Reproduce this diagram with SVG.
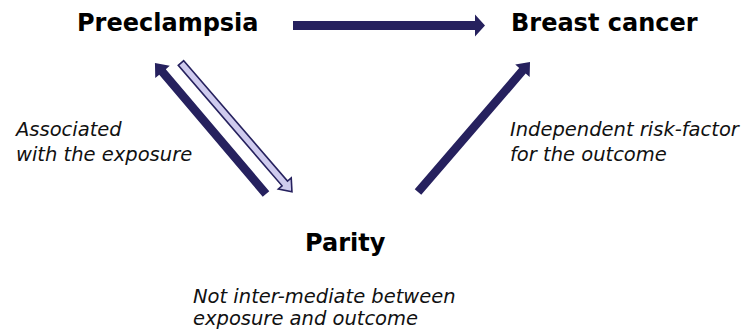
<svg xmlns="http://www.w3.org/2000/svg" width="748" height="331" viewBox="0 0 748 331">
<style>
.lbl{font-family:"DejaVu Sans",Verdana,sans-serif;font-weight:bold;font-size:24px;fill:#000}
.note{font-family:"DejaVu Sans",Verdana,sans-serif;font-style:italic;font-size:19.5px;fill:#111}
.dark{fill:#26215e}
.light{fill:#cfcbee;stroke:#26215e;stroke-width:1.6;stroke-linejoin:miter}
</style>
<rect width="748" height="331" fill="#fff"/>
<g id="connectors">
<polygon class="dark" transform="translate(293,25.5)" points="0,-4.5 182,-4.5 182,-11 192,0 182,11 182,4.5 0,4.5"/>
<polygon class="dark" transform="translate(266,194) rotate(229.7)" points="0,-4.3 160,-4.3 160,-9.5 171.7,0 160,9.5 160,4.3 0,4.3"/>
<polygon class="light" transform="translate(181,63) rotate(49.25)" points="0,-3.6 159,-3.6 159,-8.5 170,0 159,8.5 159,3.6 0,3.6"/>
<polygon class="dark" transform="translate(418,192) rotate(-49.25)" points="0,-4.3 160,-4.3 160,-9.5 171.6,0 160,9.5 160,4.3 0,4.3"/>
</g>
<g id="preeclampsia"><text class="lbl" x="77" y="31">Preeclampsia</text></g>
<g id="breast-cancer"><text class="lbl" x="511" y="31">Breast cancer</text></g>
<g id="parity"><text class="lbl" x="305" y="251">Parity</text></g>
<g id="note-exposure"><text class="note" x="16" y="136">Associated</text><text class="note" x="16" y="161">with the exposure</text></g>
<g id="note-outcome"><text class="note" x="510" y="136">Independent risk-factor</text><text class="note" x="510" y="161">for the outcome</text></g>
<g id="note-parity"><text class="note" x="193" y="303">Not inter-mediate between</text><text class="note" x="193" y="325">exposure and outcome</text></g>
</svg>
